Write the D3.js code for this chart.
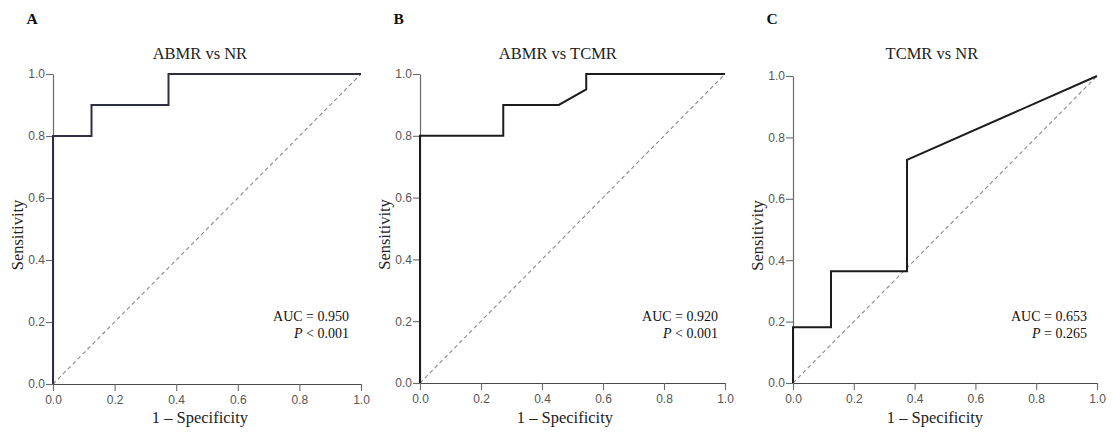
<!DOCTYPE html>
<html>
<head>
<meta charset="utf-8">
<script src="https://cdn.jsdelivr.net/npm/d3@7"></script>
<style>
  html, body { margin: 0; padding: 0; background: #fff; }
  svg { display: block; }
</style>
</head>
<body>
<svg id="chart" width="1113" height="433"></svg>
<script>
// ROC curves for three pairwise comparisons
const panelLetters = ["A", "B", "C"];
const panelTitles = ["ABMR vs NR", "ABMR vs TCMR", "TCMR vs NR"];

const fprA = [0, 0, 0.125, 0.125, 0.375, 0.375, 1];
const tprA = [0, 0.8, 0.8, 0.9, 0.9, 1, 1];

const fprB = [0, 0, 0.273, 0.273, 0.455, 0.545, 0.545, 1];
const tprB = [0, 0.8, 0.8, 0.9, 0.9, 0.95, 1, 1];

const fprC = [0, 0, 0.125, 0.125, 0.375, 0.375, 1];
const tprC = [0, 0.182, 0.182, 0.364, 0.364, 0.727, 1];

const aucValues = ["0.950", "0.920", "0.653"];
const pTexts = ["< 0.001", "< 0.001", "= 0.265"];

const tickValues = [0, 0.2, 0.4, 0.6, 0.8, 1.0];
const xAxisTitle = "1 \u2013 Specificity";
const yAxisTitle = "Sensitivity";

// plot frame of each panel (pixels) and text placement as fractions of the x range
const frames = [
  { x0: 53,  x1: 361,  yTop: 74, yBot: 384, title: 0.477, xlab: 0.477, ann: 0.961, curve: "#2e2f40" },
  { x0: 420, x1: 725,  yTop: 74, yBot: 383, title: 0.452, xlab: 0.475, ann: 0.977, curve: "#1c1c1c" },
  { x0: 793, x1: 1097, yTop: 76, yBot: 383, title: 0.457, xlab: 0.467, ann: 0.967, curve: "#1c1c1c" }
];

const curves = [
  { fpr: fprA, tpr: tprA },
  { fpr: fprB, tpr: tprB },
  { fpr: fprC, tpr: tprC }
];

const serif = "'Liberation Serif', 'Times New Roman', serif";
const sans = "'Liberation Sans', Arial, sans-serif";

const svg = d3.select("#chart");

frames.forEach((f, i) => {
  const x = d3.scaleLinear().domain([0, 1]).range([f.x0, f.x1]);
  const y = d3.scaleLinear().domain([0, 1]).range([f.yBot, f.yTop]);
  const g = svg.append("g");

  // panel letter
  g.append("text")
    .attr("x", f.x0 - 26.5).attr("y", 24)
    .attr("font-family", serif).attr("font-weight", "bold")
    .attr("font-size", 15.5).attr("fill", "#111")
    .text(panelLetters[i]);

  // panel title
  g.append("text")
    .attr("x", x(f.title)).attr("y", 59)
    .attr("text-anchor", "middle")
    .attr("font-family", serif).attr("font-size", 16.5).attr("fill", "#222")
    .text(panelTitles[i]);

  // axes
  const yAxis = g.append("g")
    .attr("transform", `translate(${f.x0},0)`)
    .call(d3.axisLeft(y).tickValues(tickValues).tickFormat(d3.format(".1f"))
      .tickSize(7).tickSizeOuter(0).tickPadding(1));
  const xAxis = g.append("g")
    .attr("transform", `translate(0,${f.yBot})`)
    .call(d3.axisBottom(x).tickValues(tickValues).tickFormat(d3.format(".1f"))
      .tickSize(7).tickSizeOuter(0).tickPadding(4));

  [yAxis, xAxis].forEach(ax => {
    ax.select(".domain").attr("stroke", "#6a6a6a").attr("stroke-width", 1.2);
    ax.selectAll(".tick line").attr("stroke", "#6a6a6a").attr("stroke-width", 1.1);
    ax.selectAll(".tick text")
      .attr("font-family", sans).attr("font-size", 12).attr("fill", "#555");
  });
  xAxis.select(".domain").attr("stroke", "#4a4a4a");

  // axis titles
  g.append("text")
    .attr("x", x(f.xlab)).attr("y", 423)
    .attr("text-anchor", "middle")
    .attr("font-family", serif).attr("font-size", 16.5).attr("fill", "#222")
    .text(xAxisTitle);

  g.append("text")
    .attr("transform", `translate(${f.x0 - 30},${(f.yTop + f.yBot) / 2 + 6}) rotate(-90)`)
    .attr("text-anchor", "middle")
    .attr("font-family", serif).attr("font-size", 16.5).attr("fill", "#222")
    .text(yAxisTitle);

  // reference diagonal
  g.append("line")
    .attr("x1", x(0)).attr("y1", y(0))
    .attr("x2", x(1)).attr("y2", y(1))
    .attr("stroke", "#8a8a8a").attr("stroke-width", 1.1)
    .attr("stroke-dasharray", "4,3");

  // ROC curve
  const c = curves[i];
  const pts = c.fpr.map((v, k) => [v, c.tpr[k]]);
  g.append("path")
    .datum(pts)
    .attr("d", d3.line().x(d => x(d[0])).y(d => y(d[1])))
    .attr("fill", "none")
    .attr("stroke", f.curve)
    .attr("stroke-width", 2)
    .attr("stroke-linejoin", "miter");

  // AUC annotation
  const ann = g.append("g")
    .attr("font-family", serif).attr("font-size", 14).attr("fill", "#111")
    .attr("text-anchor", "end");
  ann.append("text")
    .attr("x", x(f.ann)).attr("y", 321)
    .text("AUC = " + aucValues[i]);
  const pt = ann.append("text")
    .attr("x", x(f.ann)).attr("y", 338);
  pt.append("tspan").attr("font-style", "italic").text("P");
  pt.append("tspan").text(" " + pTexts[i]);
});
</script>
</body>
</html>
